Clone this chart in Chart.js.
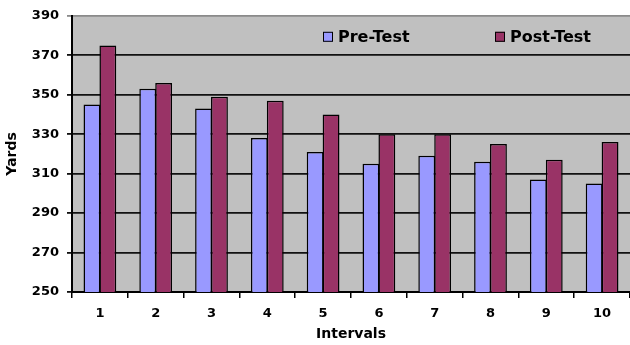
<!DOCTYPE html>
<html>
<head>
<meta charset="utf-8">
<script src="https://cdn.jsdelivr.net/npm/chart.js@4/dist/chart.umd.min.js"></script>
<style>
  html, body { margin: 0; padding: 0; background: #fff; }
  #wrap { width: 630px; height: 345px; }
</style>
</head>
<body>
<div id="wrap"><canvas id="yardsChart"></canvas></div>
<script>
// data
var intervals = ['1', '2', '3', '4', '5', '6', '7', '8', '9', '10'];
var preTest = [345, 353, 343, 328, 321, 315, 319, 316, 307, 305];
var postTest = [375, 356, 349, 347, 340, 330, 330, 325, 317, 326];
var yTicks = [250, 270, 290, 310, 330, 350, 370, 390];

// grey plot background
var plotBg = {
    id: 'plotBg',
    beforeDraw: function (chart) {
        var a = chart.chartArea, ctx = chart.ctx;
        ctx.save();
        ctx.fillStyle = '#c0c0c0';
        ctx.fillRect(a.left, a.top, a.right - a.left, a.bottom - a.top);
        ctx.restore();
    }
};

// legend drawn inside the plot, like the Excel one
var innerLegend = {
    id: 'innerLegend',
    afterDraw: function (chart) {
        var ctx = chart.ctx, a = chart.chartArea;
        var spots = [a.left + 251, a.left + 423];
        ctx.save();
        ctx.font = 'bold 16px "DejaVu Sans"';
        ctx.textBaseline = 'middle';
        chart.data.datasets.forEach(function (ds, i) {
            var x = spots[i], y = a.top + 21;
            ctx.fillStyle = ds.backgroundColor;
            ctx.strokeStyle = '#000';
            ctx.lineWidth = 1;
            ctx.fillRect(x, y - 5, 10, 10);
            ctx.strokeRect(x + 0.5, y - 4.5, 9, 9);
            ctx.fillStyle = '#000';
            ctx.fillText(ds.label, x + 15, y + 1);
        });
        ctx.restore();
    }
};

var ctx = document.getElementById('yardsChart').getContext('2d');
var yardsChart = new Chart(ctx, {
    type: 'bar',
    data: {
        labels: intervals,
        datasets: [{
            label: 'Pre-Test',
            data: preTest,
            backgroundColor: '#9999ff',
            borderColor: '#000',
            borderWidth: 1.5,
            borderSkipped: false,
            barPercentage: 1.06,
            categoryPercentage: 0.57
        }, {
            label: 'Post-Test',
            data: postTest,
            backgroundColor: '#993366',
            borderColor: '#000',
            borderWidth: 1.5,
            borderSkipped: false,
            barPercentage: 1.06,
            categoryPercentage: 0.57
        }]
    },
    options: {
        responsive: true,
        maintainAspectRatio: false,
        animation: false,
        layout: { padding: { top: 15, left: 4, right: 0, bottom: 2 } },
        plugins: {
            legend: { display: false },
            tooltip: { enabled: false }
        },
        scales: {
            x: {
                grid: {
                    offset: true,
                    drawOnChartArea: false,
                    color: '#000',
                    lineWidth: 1.5,
                    tickLength: 6
                },
                border: { color: '#000', width: 2 },
                ticks: {
                    color: '#000',
                    font: { family: 'DejaVu Sans', weight: 'bold', size: 13 },
                    padding: 8
                },
                title: {
                    display: true,
                    text: 'Intervals',
                    color: '#000',
                    font: { family: 'DejaVu Sans', weight: 'bold', size: 14 },
                    padding: { top: 0, bottom: 0 }
                },
                afterFit: function (scale) { scale.height = 51; }
            },
            y: {
                min: 250,
                max: 390,
                afterBuildTicks: function (scale) {
                    scale.ticks = yTicks.map(function (v) { return { value: v }; });
                },
                grid: {
                    color: function (c) { return c.tick && c.tick.value === 390 ? '#8a8a8a' : '#111'; },
                    lineWidth: 1.8,
                    tickLength: 5
                },
                border: { color: '#000', width: 2 },
                ticks: {
                    color: '#000',
                    font: { family: 'DejaVu Sans', weight: 'bold', size: 13 },
                    padding: 8
                },
                title: {
                    display: true,
                    text: 'Yards',
                    color: '#000',
                    font: { family: 'DejaVu Sans', weight: 'bold', size: 14 },
                    padding: { top: 0, bottom: 2 }
                },
                afterFit: function (scale) { scale.width = 68; }
            }
        }
    },
    plugins: [plotBg, innerLegend]
});
</script>
</body>
</html>
